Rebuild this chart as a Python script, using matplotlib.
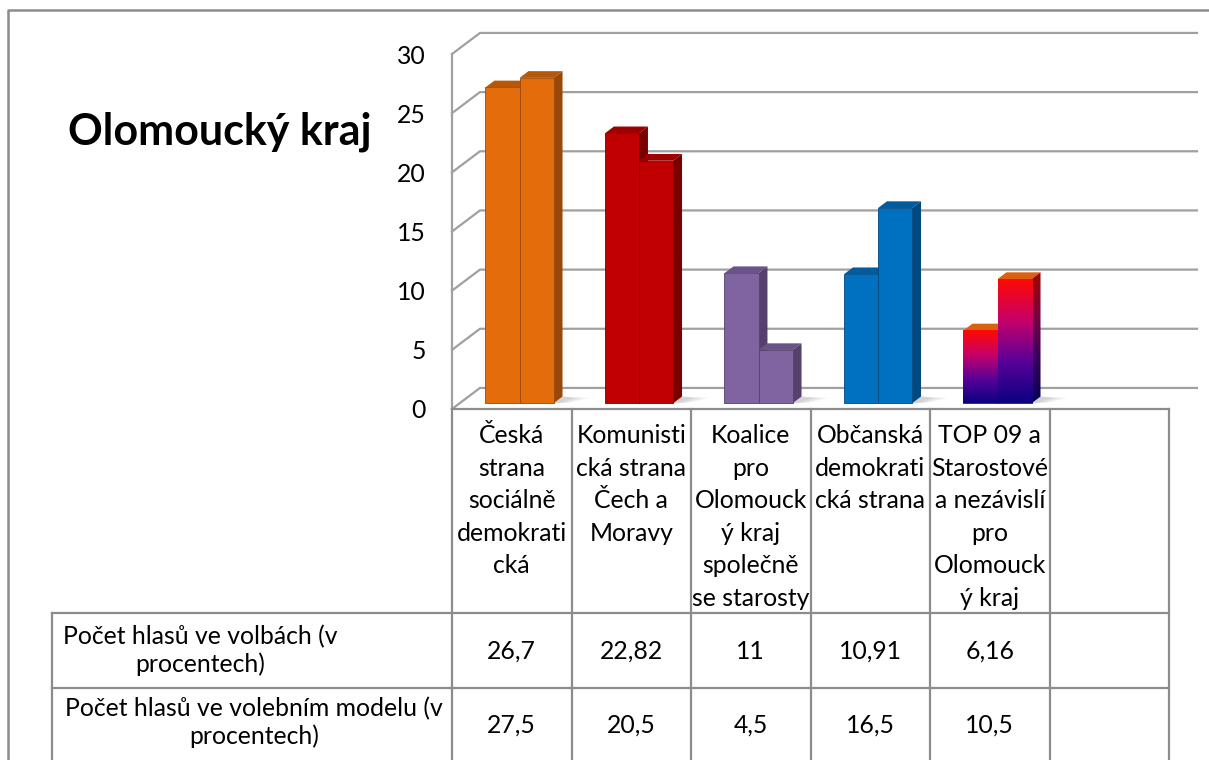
"""Olomoucký kraj: election result vs. model, 3D-style bars with a data table."""

import matplotlib

matplotlib.use("Agg")
import matplotlib.pyplot as plt
import numpy as np
from matplotlib.colors import LinearSegmentedColormap
from matplotlib.lines import Line2D
from matplotlib.patches import Polygon
from matplotlib.transforms import blended_transform_factory

plt.rcParams["font.family"] = ["Lato", "DejaVu Sans"]

TITLE = "Olomoucký kraj"
CATEGORIES = [
    "Česká\nstrana\nsociálně\ndemokrati\ncká",
    "Komunisti\ncká strana\nČech a\nMoravy",
    "Koalice\npro\nOlomouck\ný kraj\nspolečně\nse starosty",
    "Občanská\ndemokrati\ncká strana",
    "TOP 09 a\nStarostové\na nezávislí\npro\nOlomouck\ný kraj",
    "",
]
VOTES_ELECTION = [26.7, 22.82, 11, 10.91, 6.16, None]
VOTES_MODEL = [27.5, 20.5, 4.5, 16.5, 10.5, None]
ROW_LABELS = [
    ["Počet hlasů ve volbách (v", "procentech)"],
    ["Počet hlasů ve volebním modelu (v", "procentech)"],
]
Y_TICKS = [0, 5, 10, 15, 20, 25, 30]

# front / side / top colour per category, None = gradient bar
BAR_COLORS = [
    ("#e46c0a", "#9a4807", "#b85707"),
    ("#c00000", "#7a0000", "#9c0000"),
    ("#8064a2", "#54426c", "#6a5388"),
    ("#0070c0", "#004a80", "#005c9e"),
    None,
]
GRAD_FRONT = LinearSegmentedColormap.from_list("g1", ["#0a0080", "#5a0098", "#c80068", "#ff0a00"])
GRAD_SIDE = LinearSegmentedColormap.from_list("g2", ["#050050", "#36005e", "#7a0040", "#a00800"])
GRAD_TOP = "#dd6010"

W, H = 1209, 760
GRID = "#a0a0a0"
LINE = "#8c8c8c"
DEPTH_X, DEPTH_Y = 0.234, 1.78  # back-wall offset in data units
FRONT_SHIFT, BAR_DEPTH = 0.27, 0.32
BAR_W, BAR_X0 = 0.285, 0.28
FS = 17.8


def fx(px):
    return px / W


def fy(py):
    return 1 - py / H


def fmt(v):
    return "" if v is None else f"{v:g}".replace(".", ",")


fig = plt.figure(figsize=(W / 100, H / 100), dpi=100)
fig.patch.set_facecolor("white")
ax = fig.add_axes([fx(452), fy(409), fx(1169) - fx(452), fy(54) - fy(409)])
ax.patch.set_visible(False)
for s in ax.spines.values():
    s.set_visible(False)
ax.set_xticks([])
ax.set_yticks(Y_TICKS)
ax.tick_params(axis="y", length=0, pad=19, labelsize=FS)

n = len(CATEGORIES)
# walls and gridlines
ax.plot([0, 0], [0, Y_TICKS[-1]], color=GRID, lw=1.6, zorder=1, clip_on=False)
for v in Y_TICKS:
    ax.plot([0, DEPTH_X, n + DEPTH_X], [v, v + DEPTH_Y, v + DEPTH_Y],
            color=GRID, lw=1.6, zorder=1, clip_on=False, solid_joinstyle="miter")

# bars
grad = np.linspace(0, 1, 256).reshape(-1, 1)
ddx, ddy = BAR_DEPTH * DEPTH_X, BAR_DEPTH * DEPTH_Y
y0 = FRONT_SHIFT * DEPTH_Y
z = 3
for i, colors in enumerate(BAR_COLORS):
    for j, series in enumerate([VOTES_ELECTION, VOTES_MODEL]):
        v = series[i]
        if v is None:
            continue
        x0 = i + BAR_X0 + j * BAR_W
        xr = x0 + BAR_W
        if j == 1:
            # soft floor shadow
            for k, a in enumerate((0.12, 0.12, 0.14)):
                w = 0.22 - 0.06 * k
                ax.add_patch(Polygon([(xr, y0), (xr + ddx, y0 + ddy), (xr + ddx + w, y0 + ddy * 0.8),
                                      (xr + w * 0.6, y0 + 0.05)], closed=True, fc="#808080",
                                     ec="none", alpha=a, zorder=2))
        top_pts = [(x0, y0 + v), (xr, y0 + v), (xr + ddx, y0 + v + ddy), (x0 + ddx, y0 + v + ddy)]
        side_pts = [(xr, y0), (xr + ddx, y0 + ddy), (xr + ddx, y0 + v + ddy), (xr, y0 + v)]
        if colors is None:
            ax.add_patch(Polygon(top_pts, closed=True, fc=GRAD_TOP, ec="none", zorder=z))
            side = Polygon(side_pts, closed=True, fc="none", ec="none", zorder=z + 1)
            ax.add_patch(side)
            im = ax.imshow(grad, extent=[xr, xr + ddx, y0, y0 + v + ddy], origin="lower",
                           aspect="auto", cmap=GRAD_SIDE, zorder=z + 1)
            im.set_clip_path(side)
            bar = ax.bar(x0, v, width=BAR_W, bottom=y0, align="edge", color="none",
                         edgecolor="#30004a", lw=0.6, zorder=z + 2)
            im = ax.imshow(grad, extent=[x0, xr, y0, y0 + v], origin="lower",
                           aspect="auto", cmap=GRAD_FRONT, zorder=z + 2)
            im.set_clip_path(bar.patches[0])
        else:
            front, dark, topc = colors
            ax.add_patch(Polygon(top_pts, closed=True, fc=topc, ec="none", zorder=z))
            ax.add_patch(Polygon(side_pts, closed=True, fc=dark, ec="none", zorder=z + 1))
            ax.bar(x0, v, width=BAR_W, bottom=y0, align="edge", color=front,
                   edgecolor=dark, lw=0.6, zorder=z + 2)
        z += 3

ax.set_xlim(0, n)
ax.set_ylim(0, Y_TICKS[-1])

# data table
col = blended_transform_factory(ax.transData, fig.transFigure)
lkw = dict(color=LINE, lw=1.6, solid_capstyle="projecting")
fig.add_artist(Line2D([fx(452), fx(1169)], [fy(409), fy(409)], **lkw))
for py in (613, 688):
    fig.add_artist(Line2D([fx(52), fx(1169)], [fy(py), fy(py)], **lkw))
fig.add_artist(Line2D([fx(52), fx(52)], [fy(613), 0], **lkw))
for k in range(n + 1):
    fig.add_artist(Line2D([k, k], [fy(409), 0], transform=col, **lkw))

for i, name in enumerate(CATEGORIES):
    for k, line in enumerate(name.split("\n")):
        fig.text(i + 0.5, fy(443 + 32.6 * k), line, transform=col, ha="center",
                 va="baseline", fontsize=FS)
    for r, (series, py) in enumerate([(VOTES_ELECTION, 659), (VOTES_MODEL, 733)]):
        fig.text(i + 0.5, fy(py), fmt(series[i]), transform=col, ha="center",
                 va="baseline", fontsize=FS)

for (l1, l2), cx, py in zip(ROW_LABELS, (200, 254), (644, 716)):
    fig.text(fx(cx), fy(py), l1, ha="center", va="baseline", fontsize=FS)
    fig.text(fx(cx), fy(py + 27.5), l2, ha="center", va="baseline", fontsize=FS)

# title and outer frame
fig.text(fx(68), fy(145), TITLE, ha="left", va="baseline", fontsize=31, weight="bold")
fig.add_artist(Line2D([fx(8), fx(8), 1.0], [0, fy(10), fy(10)], color=LINE, lw=1.8))

fig.savefig("out.png", dpi=100, facecolor="white")
